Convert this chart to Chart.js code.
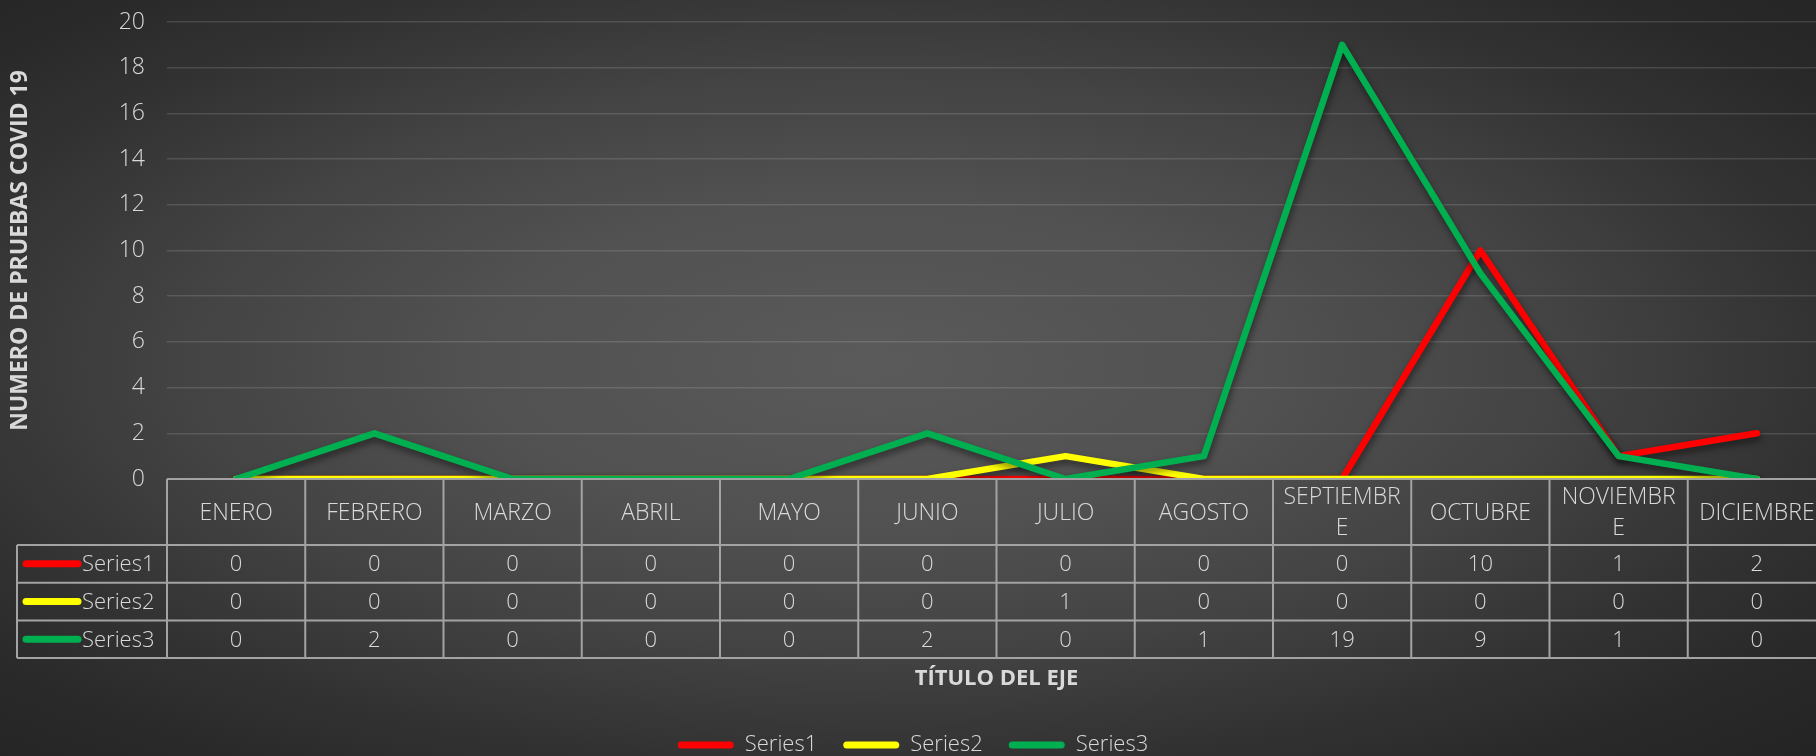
<!DOCTYPE html>
<html>
<head>
<meta charset="utf-8">
<script src="https://cdn.jsdelivr.net/npm/chart.js@4/dist/chart.umd.min.js"></script>
<style>
  html, body { margin: 0; padding: 0; width: 1816px; height: 756px; overflow: hidden; }
  body {
    background: radial-gradient(ellipse farthest-corner at 48% 48%, #5a5a5a 0%, #515151 30%, #434343 52%, #323232 72%, #282828 88%, #242424 100%);
  }
  #wrap { position: absolute; left: 0; top: 0; width: 1826px; height: 756px; }
</style>
</head>
<body>
<div id="wrap"><canvas id="chart"></canvas></div>
<script>
// months as they appear in the table header (Excel wrapped two of them)
const MESES = ['ENERO', 'FEBRERO', 'MARZO', 'ABRIL', 'MAYO', 'JUNIO', 'JULIO', 'AGOSTO',
  ['SEPTIEMBR', 'E'], 'OCTUBRE', ['NOVIEMBR', 'E'], 'DICIEMBRE'];

const SERIES_NAMES = ['Series1', 'Series2', 'Series3'];
const SERIES1 = [0, 0, 0, 0, 0, 0, 0, 0, 0, 10, 1, 2];
const SERIES2 = [0, 0, 0, 0, 0, 0, 1, 0, 0, 0, 0, 0];
const SERIES3 = [0, 2, 0, 0, 0, 2, 0, 1, 19, 9, 1, 0];
const SERIES_COLORS = ['#ff0000', '#ffff00', '#00b050'];

const Y_MIN = 0;
const Y_MAX = 20;
const Y_STEP = 2;

const FONT = "'Open Sans', 'Lato', sans-serif";
const TEXT = '#d9d9d9';
const TABLE_LINE = '#a3a3a3';

// soft drop shadow under the lines, like the Office style
const shadowPlugin = {
  id: 'lineShadow',
  beforeDatasetDraw(chart) {
    const ctx = chart.ctx;
    ctx.save();
    ctx.shadowColor = 'rgba(0,0,0,0.5)';
    ctx.shadowBlur = 7;
    ctx.shadowOffsetX = 1;
    ctx.shadowOffsetY = 4;
  },
  afterDatasetDraw(chart) {
    chart.ctx.restore();
  }
};

// data table under the plot (Excel "data table with legend keys")
const tablePlugin = {
  id: 'dataTable',
  afterDraw(chart) {
    const { ctx, chartArea } = chart;
    const x = chart.scales.x;
    const n = MESES.length;
    const colW = (chartArea.right - chartArea.left) / n;
    const top = chartArea.bottom;
    const headBottom = top + 66;
    const rowH = 37.7;
    const left = 17;
    const right = chart.width;
    const bottom = headBottom + rowH * SERIES_NAMES.length;

    ctx.save();
    ctx.strokeStyle = TABLE_LINE;
    ctx.lineWidth = 2;

    // horizontal lines
    ctx.beginPath();
    ctx.moveTo(chartArea.left, top);
    ctx.lineTo(right, top);
    for (let r = 0; r <= SERIES_NAMES.length; r++) {
      const yy = headBottom + r * rowH;
      ctx.moveTo(left, yy);
      ctx.lineTo(right, yy);
    }
    // vertical lines
    ctx.moveTo(left, headBottom);
    ctx.lineTo(left, bottom);
    for (let i = 0; i <= n; i++) {
      const xx = chartArea.left + i * colW;
      ctx.moveTo(xx, top);
      ctx.lineTo(xx, bottom);
    }
    ctx.stroke();

    ctx.fillStyle = TEXT;
    ctx.textAlign = 'center';
    ctx.textBaseline = 'middle';

    // header: month names
    ctx.font = '300 23px ' + FONT;
    const headMid = (top + headBottom) / 2;
    MESES.forEach((m, i) => {
      const cx = x.getPixelForValue(i);
      const lines = Array.isArray(m) ? m : [m];
      const lh = 30.5;
      lines.forEach((ln, k) => {
        const yy = headMid + (k - (lines.length - 1) / 2) * lh;
        ctx.fillText(ln, cx, yy + 1);
      });
    });

    // rows: legend key + values
    ctx.font = '300 22px ' + FONT;
    chart.data.datasets.forEach((ds, r) => {
      const mid = headBottom + rowH * r + rowH / 2;
      ctx.save();
      ctx.strokeStyle = ds.borderColor;
      ctx.lineWidth = 7;
      ctx.lineCap = 'round';
      ctx.beginPath();
      ctx.moveTo(left + 9, mid);
      ctx.lineTo(left + 61, mid);
      ctx.stroke();
      ctx.restore();

      ctx.textAlign = 'left';
      ctx.fillText(ds.label, left + 65, mid + 1);
      ctx.textAlign = 'center';
      ds.data.forEach((v, i) => {
        ctx.fillText(String(v), x.getPixelForValue(i), mid + 1);
      });
    });
    ctx.restore();
  }
};

const datasets = [SERIES1, SERIES2, SERIES3].map((vals, i) => ({
  label: SERIES_NAMES[i],
  data: vals,
  borderColor: SERIES_COLORS[i],
  backgroundColor: SERIES_COLORS[i],
  borderWidth: 6.5,
  borderCapStyle: 'round',
  borderJoinStyle: 'round',
  pointRadius: 0,
  pointHoverRadius: 0,
  tension: 0,
  // later series sit on top
  order: SERIES_NAMES.length - i
}));

new Chart(document.getElementById('chart'), {
  type: 'line',
  data: {
    labels: MESES.map(m => Array.isArray(m) ? m.join('') : m),
    datasets: datasets
  },
  options: {
    responsive: true,
    maintainAspectRatio: false,
    animation: false,
    layout: { padding: { top: 22, right: 0, bottom: -10, left: 0 } },
    plugins: {
      tooltip: { enabled: false },
      legend: {
        position: 'bottom',
        labels: {
          color: TEXT,
          font: { family: FONT, size: 22, weight: '300' },
          boxWidth: 56,
          boxHeight: 7,
          useBorderRadius: true,
          borderRadius: 3.5,
          padding: 26,
          sort: (a, b) => a.datasetIndex - b.datasetIndex,
          generateLabels: chart => Chart.defaults.plugins.legend.labels.generateLabels(chart)
            .map(item => Object.assign(item, { lineWidth: 0, strokeStyle: 'rgba(0,0,0,0)' }))
        }
      }
    },
    scales: {
      x: {
        offset: true,
        grid: { display: false },
        border: { display: false },
        ticks: { display: false },
        title: {
          display: true,
          text: 'TÍTULO DEL EJE',
          color: TEXT,
          font: { family: FONT, size: 22, weight: 'bold' },
          padding: { top: 0, bottom: 16 }
        },
        afterFit: scale => { scale.height = 229; scale.paddingLeft = 0; scale.paddingRight = 0; }
      },
      y: {
        min: Y_MIN,
        max: Y_MAX,
        ticks: {
          stepSize: Y_STEP,
          color: TEXT,
          font: { family: FONT, size: 23, weight: '300' },
          padding: 22
        },
        grid: { color: 'rgba(255,255,255,0.13)', lineWidth: 1.5, drawTicks: false },
        border: { display: false },
        title: {
          display: true,
          text: 'NUMERO DE PRUEBAS COVID 19',
          color: TEXT,
          font: { family: FONT, size: 23, weight: 'bold' },
          padding: { top: 7, bottom: 0 }
        },
        afterFit: scale => { scale.width = 167; scale.paddingTop = 0; scale.paddingBottom = 0; }
      }
    }
  },
  plugins: [shadowPlugin, tablePlugin]
});
</script>
</body>
</html>
